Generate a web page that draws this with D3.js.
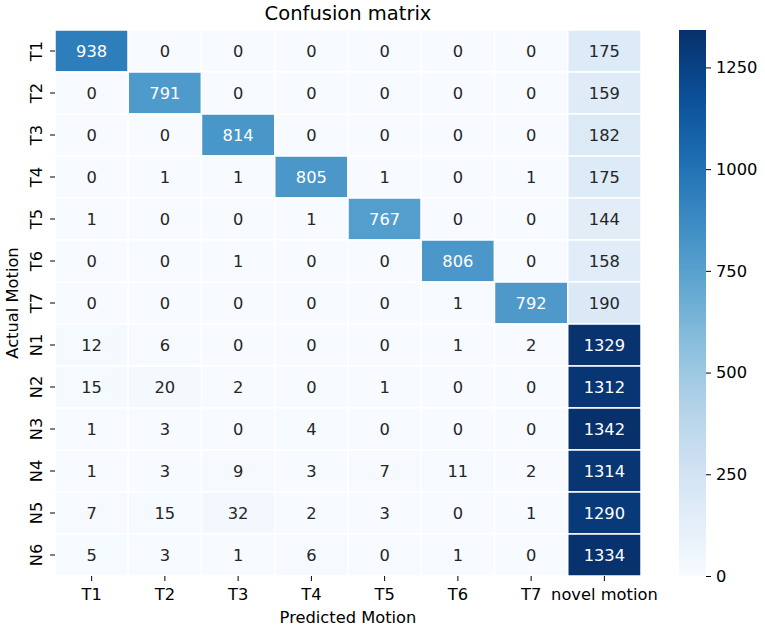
<!DOCTYPE html>
<html>
<head>
<meta charset="utf-8">
<script src="https://d3js.org/d3.v7.min.js"></script>
<style>
  body { margin: 0; background: #fff; }
  text { font-family: "DejaVu Sans", sans-serif; }
</style>
</head>
<body>
<div id="chart"></div>
<script>
// labels
var actual = ["T1","T2","T3","T4","T5","T6","T7","N1","N2","N3","N4","N5","N6"]
var predicted = ["T1","T2","T3","T4","T5","T6","T7","novel motion"]
var cbarTicks = [0, 250, 500, 750, 1000, 1250]

// counts, one row per actual motion
var counts = [
  [938,   0,   0,   0,   0,   0,   0,  175],
  [  0, 791,   0,   0,   0,   0,   0,  159],
  [  0,   0, 814,   0,   0,   0,   0,  182],
  [  0,   1,   1, 805,   1,   0,   1,  175],
  [  1,   0,   0,   1, 767,   0,   0,  144],
  [  0,   0,   1,   0,   0, 806,   0,  158],
  [  0,   0,   0,   0,   0,   1, 792,  190],
  [ 12,   6,   0,   0,   0,   1,   2, 1329],
  [ 15,  20,   2,   0,   1,   0,   0, 1312],
  [  1,   3,   0,   4,   0,   0,   0, 1342],
  [  1,   3,   9,   3,   7,  11,   2, 1314],
  [  7,  15,  32,   2,   3,   0,   1, 1290],
  [  5,   3,   1,   6,   0,   1,   0, 1334]
]

var W = 765, H = 629
var margin = {top: 30, left: 55}
var width = 586, height = 546
var fs = "16.3px"

var cells = []
counts.forEach(function(row, i) {
  row.forEach(function(v, j) {
    cells.push({r: actual[i], c: predicted[j], v: v})
  })
})

var vmax = d3.max(cells, function(d) { return d.v })

var svg = d3.select("#chart").append("svg")
  .attr("width", W)
  .attr("height", H)

var g = svg.append("g")
  .attr("transform", "translate(" + margin.left + "," + margin.top + ")")

var x = d3.scaleBand().domain(predicted).range([0, width])
var y = d3.scaleBand().domain(actual).range([0, height])
var color = d3.scaleSequential(d3.interpolateBlues).domain([0, vmax])

// cells
g.selectAll("rect.cell")
  .data(cells)
  .enter()
  .append("rect")
    .attr("class", "cell")
    .attr("x", function(d) { return x(d.c) })
    .attr("y", function(d) { return y(d.r) })
    .attr("width", x.bandwidth())
    .attr("height", y.bandwidth())
    .attr("fill", function(d) { return color(d.v) })
    .attr("stroke", "#fff")
    .attr("stroke-width", 1.5)

// annotations, white on dark cells
g.selectAll("text.annot")
  .data(cells)
  .enter()
  .append("text")
    .attr("class", "annot")
    .attr("x", function(d) { return x(d.c) + x.bandwidth() / 2 })
    .attr("y", function(d) { return y(d.r) + y.bandwidth() / 2 })
    .attr("dy", "0.36em")
    .attr("text-anchor", "middle")
    .style("font-size", fs)
    .attr("fill", function(d) {
      var c = d3.rgb(color(d.v))
      var lum = 0.2126 * c.r + 0.7152 * c.g + 0.0722 * c.b
      return lum < 150 ? "#fff" : "#262626"
    })
    .text(function(d) { return d.v })

// x axis
var xAxis = g.append("g")
  .attr("transform", "translate(0," + height + ")")
  .call(d3.axisBottom(x).tickSize(5).tickPadding(7))
xAxis.select(".domain").remove()
xAxis.selectAll("text").style("font-size", fs).attr("fill", "#000")

// y axis
var yAxis = g.append("g")
  .call(d3.axisLeft(y).tickSize(5).tickPadding(4))
yAxis.select(".domain").remove()
yAxis.selectAll("text")
  .style("font-size", fs)
  .attr("fill", "#000")
  .attr("text-anchor", "middle")
  .attr("x", 0)
  .attr("dy", 0)
  .attr("transform", "translate(-13,0) rotate(-90)")

// titles
svg.append("text")
  .attr("x", margin.left + width / 2)
  .attr("y", 20)
  .attr("text-anchor", "middle")
  .style("font-size", "19.5px")
  .text("Confusion matrix")

svg.append("text")
  .attr("x", margin.left + width / 2)
  .attr("y", 623)
  .attr("text-anchor", "middle")
  .style("font-size", fs)
  .text("Predicted Motion")

svg.append("text")
  .attr("transform", "translate(18," + (margin.top + height / 2) + ") rotate(-90)")
  .attr("text-anchor", "middle")
  .style("font-size", fs)
  .text("Actual Motion")

// colorbar
var cbX = 679, cbW = 27
var defs = svg.append("defs")
var grad = defs.append("linearGradient")
  .attr("id", "cbar")
  .attr("x1", "0").attr("y1", "1").attr("x2", "0").attr("y2", "0")
d3.range(0, 1.0001, 0.05).forEach(function(t) {
  grad.append("stop")
    .attr("offset", t)
    .attr("stop-color", color(t * vmax))
})
svg.append("rect")
  .attr("x", cbX)
  .attr("y", margin.top)
  .attr("width", cbW)
  .attr("height", height)
  .attr("fill", "url(#cbar)")

var cy = d3.scaleLinear().domain([0, vmax]).range([margin.top + height, margin.top])
var cAxis = svg.append("g")
  .attr("transform", "translate(" + (cbX + cbW) + ",0)")
  .call(d3.axisRight(cy).tickValues(cbarTicks).tickFormat(d3.format("d")).tickSize(5).tickPadding(5))
cAxis.select(".domain").remove()
cAxis.selectAll("text").style("font-size", fs).attr("fill", "#000")
</script>
</body>
</html>
